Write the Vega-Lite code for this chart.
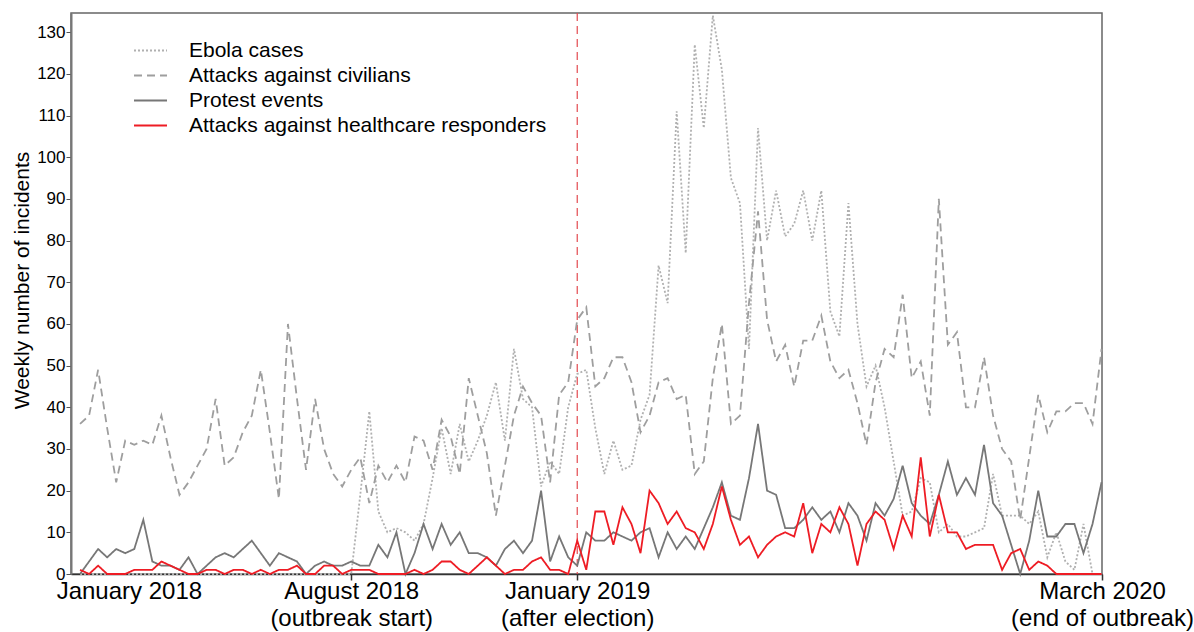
{
  "$schema": "https://vega.github.io/schema/vega-lite/v6.json",
  "autosize": {"type": "none"},
  "padding": {"left": 71, "top": 13, "right": 92, "bottom": 58},
  "width": 1031,
  "height": 561,
  "background": "white",
  "config": {"view": {"stroke": "#666666", "strokeWidth": 1.5}, "font": "Liberation Sans"},
  "layer": [
    {
      "data": {"values": [{"week": 55}]},
      "mark": {"type": "rule", "color": "#e34a50", "strokeDash": [8, 5], "strokeWidth": 1.2},
      "encoding": {"x": {"field": "week", "type": "quantitative"}}
    },
    {
      "data": {"values": [
        {"week":0,"e":0,"c":36,"p":0,"h":1},
        {"week":1,"e":0,"c":38,"p":3,"h":0},
        {"week":2,"e":0,"c":49,"p":6,"h":2},
        {"week":3,"e":0,"c":35,"p":4,"h":0},
        {"week":4,"e":0,"c":22,"p":6,"h":0},
        {"week":5,"e":0,"c":32,"p":5,"h":0},
        {"week":6,"e":0,"c":31,"p":6,"h":1},
        {"week":7,"e":0,"c":32,"p":13,"h":1},
        {"week":8,"e":0,"c":31,"p":3,"h":1},
        {"week":9,"e":0,"c":38,"p":2,"h":3},
        {"week":10,"e":0,"c":28,"p":2,"h":2},
        {"week":11,"e":0,"c":19,"p":1,"h":1},
        {"week":12,"e":0,"c":22,"p":4,"h":0},
        {"week":13,"e":0,"c":26,"p":0,"h":0},
        {"week":14,"e":0,"c":30,"p":2,"h":1},
        {"week":15,"e":0,"c":42,"p":4,"h":1},
        {"week":16,"e":0,"c":26,"p":5,"h":0},
        {"week":17,"e":0,"c":28,"p":4,"h":1},
        {"week":18,"e":0,"c":34,"p":6,"h":1},
        {"week":19,"e":0,"c":38,"p":8,"h":0},
        {"week":20,"e":0,"c":49,"p":5,"h":1},
        {"week":21,"e":0,"c":34,"p":2,"h":0},
        {"week":22,"e":0,"c":18,"p":5,"h":1},
        {"week":23,"e":0,"c":60,"p":4,"h":1},
        {"week":24,"e":0,"c":42,"p":3,"h":2},
        {"week":25,"e":0,"c":25,"p":0,"h":0},
        {"week":26,"e":0,"c":42,"p":2,"h":0},
        {"week":27,"e":0,"c":30,"p":3,"h":2},
        {"week":28,"e":0,"c":24,"p":2,"h":2},
        {"week":29,"e":0,"c":21,"p":2,"h":0},
        {"week":30,"e":0,"c":25,"p":3,"h":1},
        {"week":31,"e":19,"c":28,"p":2,"h":1},
        {"week":32,"e":39,"c":17,"p":2,"h":1},
        {"week":33,"e":15,"c":26,"p":7,"h":0},
        {"week":34,"e":10,"c":22,"p":4,"h":0},
        {"week":35,"e":11,"c":26,"p":10,"h":0},
        {"week":36,"e":10,"c":22,"p":0,"h":0},
        {"week":37,"e":8,"c":33,"p":5,"h":1},
        {"week":38,"e":12,"c":32,"p":12,"h":0},
        {"week":39,"e":23,"c":25,"p":6,"h":1},
        {"week":40,"e":35,"c":37,"p":12,"h":3},
        {"week":41,"e":24,"c":33,"p":7,"h":3},
        {"week":42,"e":36,"c":24,"p":10,"h":1},
        {"week":43,"e":27,"c":47,"p":5,"h":0},
        {"week":44,"e":32,"c":38,"p":5,"h":2},
        {"week":45,"e":38,"c":29,"p":4,"h":4},
        {"week":46,"e":46,"c":14,"p":2,"h":2},
        {"week":47,"e":32,"c":26,"p":6,"h":0},
        {"week":48,"e":54,"c":38,"p":8,"h":1},
        {"week":49,"e":42,"c":45,"p":5,"h":1},
        {"week":50,"e":40,"c":41,"p":8,"h":3},
        {"week":51,"e":21,"c":38,"p":20,"h":4},
        {"week":52,"e":27,"c":22,"p":3,"h":1},
        {"week":53,"e":24,"c":43,"p":9,"h":1},
        {"week":54,"e":40,"c":46,"p":4,"h":0},
        {"week":55,"e":48,"c":61,"p":2,"h":8},
        {"week":56,"e":49,"c":64,"p":10,"h":1},
        {"week":57,"e":35,"c":45,"p":8,"h":15},
        {"week":58,"e":24,"c":47,"p":8,"h":15},
        {"week":59,"e":32,"c":52,"p":10,"h":7},
        {"week":60,"e":25,"c":52,"p":9,"h":16},
        {"week":61,"e":26,"c":46,"p":8,"h":12},
        {"week":62,"e":37,"c":34,"p":10,"h":5},
        {"week":63,"e":43,"c":38,"p":11,"h":20},
        {"week":64,"e":74,"c":46,"p":4,"h":17},
        {"week":65,"e":65,"c":47,"p":10,"h":12},
        {"week":66,"e":111,"c":42,"p":6,"h":15},
        {"week":67,"e":77,"c":43,"p":9,"h":11},
        {"week":68,"e":127,"c":24,"p":6,"h":10},
        {"week":69,"e":107,"c":27,"p":11,"h":6},
        {"week":70,"e":134,"c":47,"p":16,"h":12},
        {"week":71,"e":121,"c":60,"p":22,"h":21},
        {"week":72,"e":95,"c":36,"p":14,"h":13},
        {"week":73,"e":89,"c":38,"p":13,"h":7},
        {"week":74,"e":54,"c":65,"p":23,"h":9},
        {"week":75,"e":107,"c":87,"p":36,"h":4},
        {"week":76,"e":80,"c":61,"p":20,"h":7},
        {"week":77,"e":92,"c":51,"p":19,"h":9},
        {"week":78,"e":81,"c":55,"p":11,"h":10},
        {"week":79,"e":84,"c":45,"p":11,"h":9},
        {"week":80,"e":92,"c":56,"p":13,"h":17},
        {"week":81,"e":80,"c":56,"p":16,"h":5},
        {"week":82,"e":92,"c":62,"p":13,"h":12},
        {"week":83,"e":63,"c":51,"p":15,"h":10},
        {"week":84,"e":57,"c":47,"p":10,"h":16},
        {"week":85,"e":89,"c":49,"p":17,"h":12},
        {"week":86,"e":60,"c":41,"p":14,"h":2},
        {"week":87,"e":45,"c":31,"p":8,"h":12},
        {"week":88,"e":50,"c":46,"p":17,"h":15},
        {"week":89,"e":40,"c":54,"p":14,"h":13},
        {"week":90,"e":27,"c":52,"p":18,"h":6},
        {"week":91,"e":14,"c":67,"p":26,"h":14},
        {"week":92,"e":15,"c":47,"p":17,"h":9},
        {"week":93,"e":23,"c":51,"p":14,"h":28},
        {"week":94,"e":22,"c":38,"p":12,"h":9},
        {"week":95,"e":10,"c":90,"p":19,"h":19},
        {"week":96,"e":12,"c":55,"p":27,"h":10},
        {"week":97,"e":9,"c":58,"p":19,"h":10},
        {"week":98,"e":9,"c":40,"p":23,"h":6},
        {"week":99,"e":10,"c":40,"p":19,"h":7},
        {"week":100,"e":11,"c":52,"p":31,"h":7},
        {"week":101,"e":24,"c":38,"p":17,"h":7},
        {"week":102,"e":14,"c":30,"p":14,"h":1},
        {"week":103,"e":14,"c":27,"p":7,"h":5},
        {"week":104,"e":14,"c":13,"p":0,"h":6},
        {"week":105,"e":12,"c":28,"p":8,"h":1},
        {"week":106,"e":15,"c":43,"p":20,"h":3},
        {"week":107,"e":4,"c":34,"p":9,"h":2},
        {"week":108,"e":10,"c":39,"p":9,"h":0},
        {"week":109,"e":3,"c":39,"p":12,"h":0},
        {"week":110,"e":1,"c":41,"p":12,"h":0},
        {"week":111,"e":12,"c":41,"p":5,"h":0},
        {"week":112,"e":0,"c":36,"p":12,"h":0},
        {"week":113,"e":0,"c":54,"p":22,"h":0}
      ]},
      "transform": [{"fold": ["e", "c", "p", "h"], "as": ["series", "count"]}],
      "mark": {"type": "line", "strokeWidth": 1.8},
      "encoding": {
        "x": {
          "field": "week", "type": "quantitative",
          "scale": {"domain": [-1, 113.05], "nice": false, "zero": false},
          "axis": {
            "title": null, "grid": false,
            "values": [5.4, 30, 55, 113.05],
            "labelExpr": "datum.value < 10 ? 'January 2018' : datum.value < 40 ? ['August 2018', '(outbreak start)'] : datum.value < 60 ? ['January 2019', '(after election)'] : ['March 2020', '(end of outbreak)']",
            "domainColor": "#333333", "domainWidth": 1.5,
            "tickColor": "#333333", "tickWidth": 1.5, "tickSize": 6,
            "tickOpacity": {"condition": {"test": "datum.value < 10", "value": 0}, "value": 1},
            "labelFontSize": 24, "labelColor": "black", "labelPadding": -1, "labelLimit": 0,
            "labelLineHeight": 27, "labelOverlap": false, "labelFlush": false, "labelBound": false
          }
        },
        "y": {
          "field": "count", "type": "quantitative",
          "scale": {"domain": [0, 134.6], "nice": false},
          "axis": {
            "title": "Weekly number of incidents", "titleFontSize": 21, "titleFontWeight": "normal",
            "titleColor": "black", "titlePadding": 4, "titleY": 267, "grid": false,
            "values": [0, 10, 20, 30, 40, 50, 60, 70, 80, 90, 100, 110, 120, 130],
            "labelFontSize": 17, "labelColor": "black", "labelPadding": 1,
            "tickSize": 5, "tickColor": "#555555", "domainColor": "#777777", "domainWidth": 2
          }
        },
        "color": {
          "field": "series", "type": "nominal",
          "scale": {"domain": ["e", "c", "p", "h"], "range": ["#b0b0b0", "#9e9e9e", "#777777", "#ee1c24"]},
          "legend": {
            "title": null, "orient": "none", "legendX": 62, "legendY": 27, "padding": 0,
            "symbolType": "stroke", "symbolSize": 1089, "symbolStrokeWidth": 2, "clipHeight": 21,
            "labelFontSize": 21, "labelColor": "black", "labelOffset": 21, "labelLimit": 0, "rowPadding": 3,
            "labelExpr": "datum.label == 'e' ? 'Ebola cases' : datum.label == 'c' ? 'Attacks against civilians' : datum.label == 'p' ? 'Protest events' : 'Attacks against healthcare responders'"
          }
        },
        "strokeDash": {
          "field": "series", "type": "nominal",
          "scale": {"domain": ["e", "c", "p", "h"], "range": [[2, 2], [8, 5], [1, 0], [1, 0]]},
          "legend": {
            "title": null, "orient": "none", "legendX": 62, "legendY": 27, "padding": 0,
            "symbolType": "stroke", "symbolSize": 1089, "symbolStrokeWidth": 2, "clipHeight": 21,
            "labelFontSize": 21, "labelColor": "black", "labelOffset": 21, "labelLimit": 0, "rowPadding": 3,
            "labelExpr": "datum.label == 'e' ? 'Ebola cases' : datum.label == 'c' ? 'Attacks against civilians' : datum.label == 'p' ? 'Protest events' : 'Attacks against healthcare responders'"
          }
        }
      }
    }
  ]
}
